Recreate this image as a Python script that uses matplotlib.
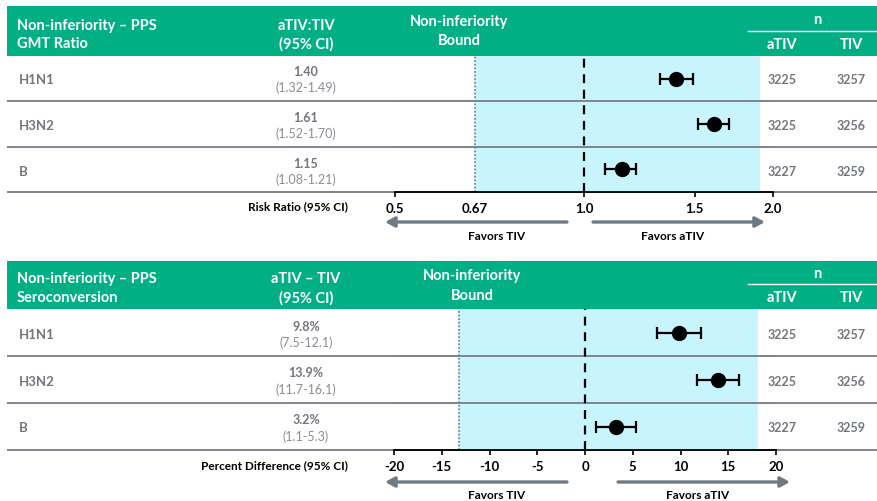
import matplotlib
matplotlib.use("Agg")
import matplotlib.pyplot as plt
from matplotlib.patches import Rectangle

plt.rcParams['font.family'] = ['Lato', 'DejaVu Sans']

# ---- data ----
strains = ["H1N1", "H3N2", "B"]

gmt_ratio = [1.40, 1.61, 1.15]
gmt_lo = [1.32, 1.52, 1.08]
gmt_hi = [1.49, 1.70, 1.21]
gmt_n_ativ = [3225, 3225, 3227]
gmt_n_tiv = [3257, 3256, 3259]
gmt_bound = 0.67
gmt_shade_hi = 1.91
gmt_ticks = [0.5, 0.67, 1.0, 1.5, 2.0]
gmt_ticklabels = ["0.5", "0.67", "1.0", "1.5", "2.0"]

sc_diff = [9.8, 13.9, 3.2]
sc_lo = [7.5, 11.7, 1.1]
sc_hi = [12.1, 16.1, 5.3]
sc_n_ativ = [3225, 3225, 3227]
sc_n_tiv = [3257, 3256, 3259]
sc_bound = -13.2
sc_shade_hi = 18.1
sc_ticks = [-20, -15, -10, -5, 0, 5, 10, 15, 20]
sc_ticklabels = ["-20", "-15", "-10", "-5", "0", "5", "10", "15", "20"]

# ---- style ----
GREEN = "#00AF84"
BLUE = "#C8F4FE"
LINE_GRAY = "#7D858E"
TEXT_GRAY = "#72777E"
LIGHT_GRAY = "#8A8F96"
ARROW_GRAY = "#6E7B87"

W, H = 877, 502
fig = plt.figure(figsize=(W / 100, H / 100), dpi=100)

# page-level layer in pixel units for the table parts
page = fig.add_axes([0, 0, 1, 1], zorder=0)
page.set_xlim(0, W)
page.set_ylim(H, 0)
page.axis("off")


def fig_rect(left, top, right, bottom):
    return [left / W, 1 - bottom / H, (right - left) / W, (bottom - top) / H]


def table(top, hdr_bot, titles, cols, bound_x, bound_y, n_y, nline_y, sub_y, hdr_y,
          rows_y, val_y, ci_y, sep_y, values, lows, highs, n_a, n_t, val_fmt, ci_fmt):
    page.add_patch(Rectangle((7, top), W - 7, hdr_bot - top, color=GREEN, lw=0))
    hk = dict(color="white", fontsize=10.5, fontweight="bold", va="center")
    page.text(17, hdr_y[0], titles[0], ha="left", **hk)
    page.text(17, hdr_y[1], titles[1], ha="left", **hk)
    page.text(306, hdr_y[0], cols[0], ha="center", **hk)
    page.text(306, hdr_y[1], cols[1], ha="center", **hk)
    page.text(bound_x, bound_y[0], "Non-inferiority", ha="center", **hk)
    page.text(bound_x, bound_y[1], "Bound", ha="center", **hk)
    page.text(817, n_y, "n", ha="center", **hk)
    page.plot([748, W], [nline_y, nline_y], color="white", lw=1.0)
    page.text(782, sub_y, "aTIV", ha="center", **hk)
    page.text(851, sub_y, "TIV", ha="center", **hk)
    for y in sep_y:
        page.plot([7, W], [y, y], color=LINE_GRAY, lw=1.4, solid_capstyle="butt")
    for i, name in enumerate(strains):
        page.text(19, rows_y[i], name, ha="left", va="center", color=TEXT_GRAY,
                  fontsize=9.5, fontweight="bold")
        page.text(306, val_y[i], val_fmt.format(values[i]), ha="center", va="center",
                  color=TEXT_GRAY, fontsize=9, fontweight="bold")
        page.text(306, ci_y[i], "(" + ci_fmt.format(lows[i]) + "-" + ci_fmt.format(highs[i]) + ")",
                  ha="center", va="center", color=LIGHT_GRAY, fontsize=9)
        page.text(782, rows_y[i], str(n_a[i]), ha="center", va="center", color=TEXT_GRAY,
                  fontsize=9, fontweight="bold")
        page.text(851, rows_y[i], str(n_t[i]), ha="center", va="center", color=TEXT_GRAY,
                  fontsize=9, fontweight="bold")


def forest(ax, values, lows, highs, ref, bound, shade_hi, ticks, ticklabels, no_mark=()):
    ax.set_facecolor("none")
    ax.set_ylim(2.5, -0.5)
    ax.axvspan(bound, shade_hi, color=BLUE, lw=0, zorder=0)
    for y in (0.5, 1.5):
        ax.axhline(y, color=LINE_GRAY, lw=1.4, zorder=1)
    ax.axvline(bound, color=LINE_GRAY, lw=1.3, ls=(0, (1, 1)), zorder=2)
    ax.axvline(ref, color="black", lw=1.6, ls=(0, (4, 3)), zorder=2)
    ys = list(range(len(values)))
    xerr = [[v - l for v, l in zip(values, lows)], [h - v for v, h in zip(values, highs)]]
    ax.errorbar(values, ys, xerr=xerr, fmt="o", color="black", ms=10, lw=1.6,
                capsize=4, capthick=1.6, zorder=3)
    for s in ("top", "left", "right"):
        ax.spines[s].set_visible(False)
    ax.spines["bottom"].set_color("black")
    ax.spines["bottom"].set_linewidth(1.3)
    ax.spines["bottom"].set_zorder(4)
    ax.set_yticks([])
    ax.set_xticks(ticks)
    ax.set_xticklabels(ticklabels)
    ax.minorticks_off()
    ax.tick_params(axis="x", length=3.5, width=1.2, color="black", pad=4,
                   labelsize=9.5)
    for lab in ax.get_xticklabels():
        lab.set_fontweight("bold")
    for i in no_mark:
        ax.xaxis.get_major_ticks()[i].tick1line.set_visible(False)


def arrows(y, left_span, right_span, text_y, left_x, right_x):
    ap = dict(arrowstyle="-|>,head_length=0.55,head_width=0.3", color=ARROW_GRAY,
              lw=2.4, shrinkA=0, shrinkB=0)
    page.annotate("", xy=(left_span[1], y), xytext=(left_span[0], y), arrowprops=ap)
    page.annotate("", xy=(right_span[1], y), xytext=(right_span[0], y), arrowprops=ap)
    page.text(left_x, text_y, "Favors TIV", ha="center", va="center", fontsize=8.5,
              fontweight="bold", color="black")
    page.text(right_x, text_y, "Favors aTIV", ha="center", va="center", fontsize=8.5,
              fontweight="bold", color="black")


# ---- GMT ratio panel ----
table(7, 57, ("Non-inferiority \u2013 PPS", "GMT Ratio"), ("aTIV:TIV", "(95% CI)"),
      459, (22, 41), 20, 32, 45, (26, 44),
      [80, 126, 172], [72, 118, 164], [88, 134, 180], [102, 148, 193],
      gmt_ratio, gmt_lo, gmt_hi, gmt_n_ativ, gmt_n_tiv, "{:.2f}", "{:.2f}")

ax1 = fig.add_axes(fig_rect(395, 57, 773, 193), zorder=1)
ax1.set_xscale("log")
ax1.set_xlim(0.5, 2.0)
forest(ax1, gmt_ratio, gmt_lo, gmt_hi, 1.0, gmt_bound, gmt_shade_hi,
       gmt_ticks, gmt_ticklabels, no_mark=(1,))
page.text(348, 207, "Risk Ratio (95% CI)", ha="right", va="center", fontsize=8.5,
          fontweight="bold", color="black")
arrows(223, (567, 385), (593, 765), 237, 497, 673)

# ---- seroconversion panel ----
table(262, 310, ("Non-inferiority \u2013 PPS", "Seroconversion"), ("aTIV \u2013 TIV", "(95% CI)"),
      472, (276, 296), 274, 285, 298, (279, 298),
      [335, 382, 428], [327, 373, 420], [343, 390, 437], [357, 404, 451],
      sc_diff, sc_lo, sc_hi, sc_n_ativ, sc_n_tiv, "{:.1f}%", "{:.1f}")

ax2 = fig.add_axes(fig_rect(394, 310, 776, 451), zorder=1)
ax2.set_xlim(-20, 20)
forest(ax2, sc_diff, sc_lo, sc_hi, 0.0, sc_bound, sc_shade_hi,
       sc_ticks, sc_ticklabels)
page.text(348, 466, "Percent Difference (95% CI)", ha="right", va="center", fontsize=8.5,
          fontweight="bold", color="black")
arrows(483, (567, 385), (618, 790), 496, 497, 698)

fig.savefig("out.png", dpi=100)
